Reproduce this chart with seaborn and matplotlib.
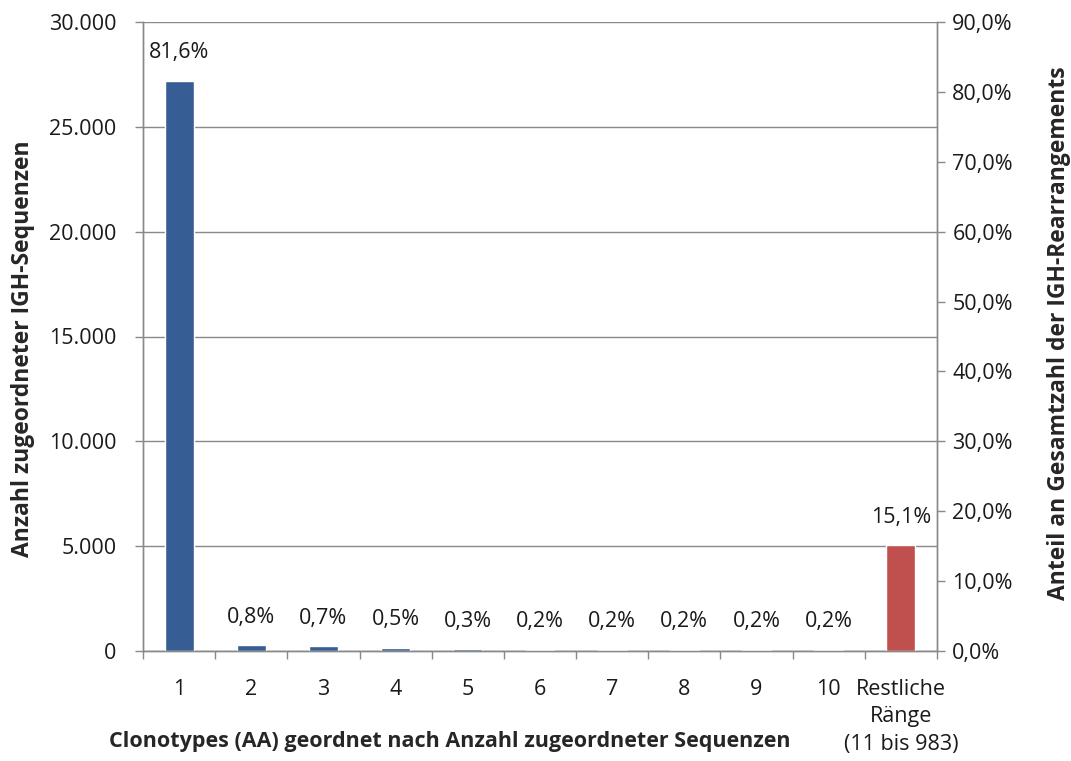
import matplotlib
matplotlib.use("Agg")
import matplotlib.pyplot as plt
import matplotlib.ticker as mticker
import seaborn as sns
import pandas as pd

# Clonotype ranks and their share of all IGH rearrangements (percent)
categories = ["1", "2", "3", "4", "5", "6", "7", "8", "9", "10",
              "Restliche\nRänge\n(11 bis 983)"]
shares = [81.6, 0.8, 0.7, 0.5, 0.3, 0.2, 0.2, 0.2, 0.2, 0.2, 15.1]
share_labels = ["81,6%", "0,8%", "0,7%", "0,5%", "0,3%", "0,2%", "0,2%",
                "0,2%", "0,2%", "0,2%", "15,1%"]
bar_colors = ["#365E95"] * 5 + ["#C0504D"] * 6

count_ticks = [0, 5000, 10000, 15000, 20000, 25000, 30000]
share_ticks = [0, 10, 20, 30, 40, 50, 60, 70, 80, 90]

FS = 15.5
TITLE_FS = 16.5
GRID = "#898989"

sns.set_theme(style="white")
plt.rcParams["font.family"] = ["Open Sans", "DejaVu Sans"]

df = pd.DataFrame({"rank": categories, "share": shares})

fig = plt.figure(figsize=(10.71, 7.61), dpi=100)
ax = fig.add_axes([143 / 1071, 1 - 651 / 761, (937 - 143) / 1071, (651 - 22) / 761])
ax2 = ax.twinx()

# left axis: sequence counts with horizontal gridlines
ax.set_ylim(0, 30000)
ax.set_yticks(count_ticks)
ax.yaxis.set_major_formatter(
    mticker.FuncFormatter(lambda v, p: f"{int(v):,}".replace(",", ".")))
ax.grid(axis="y", color=GRID, linewidth=1.0)
ax.set_axisbelow(True)

# bars on the percentage axis
sns.barplot(data=df, x="rank", y="share", hue="rank", palette=bar_colors,
            legend=False, width=0.4, ax=ax2, saturation=1)
ax2.set_ylim(0, 90)
ax2.set_yticks(share_ticks)
ax2.yaxis.set_major_formatter(
    mticker.FuncFormatter(lambda v, p: f"{v:.1f}%".replace(".", ",")))

for i, (val, lab) in enumerate(zip(shares, share_labels)):
    ax2.annotate(lab, (i, val), xytext=(0, 20), textcoords="offset points",
                 ha="center", va="center", fontsize=FS, color="#1A1A1A")

ax.set_xlim(-0.5, len(categories) - 0.5)
ax.set_xticks(range(len(categories)))
ax.set_xticklabels(categories, fontsize=FS, linespacing=1.42, va="top")
ax.tick_params(axis="x", length=0, pad=20)
ax.set_xticks([i - 0.5 for i in range(len(categories) + 1)], minor=True)
ax.tick_params(axis="x", which="minor", length=6, width=1, color=GRID,
               direction="out", bottom=True)
ax.tick_params(axis="y", length=6, width=1, color=GRID, direction="out",
               left=True, labelsize=FS, pad=13, labelcolor="#1A1A1A")
ax2.tick_params(axis="y", length=6, width=1, color=GRID, direction="out",
                right=True, labelsize=FS, pad=5, labelcolor="#1A1A1A")
ax.tick_params(axis="x", labelcolor="#1A1A1A")
ax2.set_xlabel("")
ax2.set_ylabel("")

for a in (ax, ax2):
    for side, sp in a.spines.items():
        sp.set_color(GRID)
        sp.set_linewidth(1.0)
    a.spines["top"].set_visible(False)

ax.set_ylabel("Anzahl zugeordneter IGH-Sequenzen", fontsize=TITLE_FS,
              fontweight="bold")
ax.yaxis.set_label_coords(-0.136, 0.48)
ax2.set_ylabel("Anteil an Gesamtzahl der IGH-Rearrangements", fontsize=TITLE_FS,
               fontweight="bold", rotation=90)
ax2.yaxis.set_label_coords(1.138, 0.505)

fig.text(450 / 1071, 1 - 741 / 761, "Clonotypes (AA) geordnet nach Anzahl zugeordneter Sequenzen",
         ha="center", va="center", fontsize=FS, fontweight="bold")

fig.savefig("out.png", dpi=100)
